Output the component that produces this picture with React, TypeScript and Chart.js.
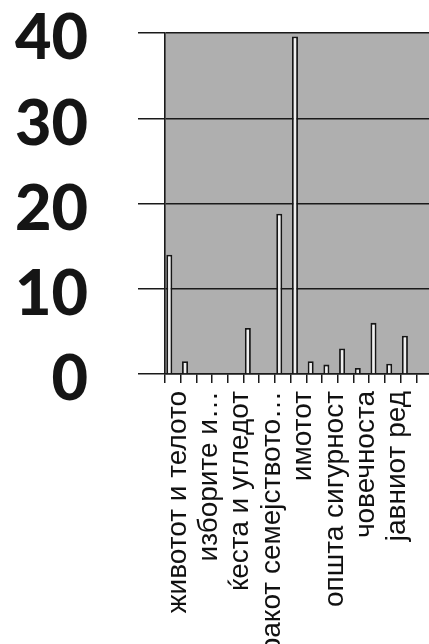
import React, { useEffect, useRef } from "react";
import { Chart, registerables } from "chart.js";

Chart.register(...registerables);

const categories: string[] = [
  "животот и телото",
  "",
  "изборите и…",
  "",
  "ќеста и угледот",
  "",
  "бракот семејството…",
  "",
  "имотот",
  "",
  "општа сигурност",
  "",
  "човечноста",
  "",
  "јавниот ред",
  "",
  "",
];

const counts: (number | null)[] = [14, 1.5, 0, 0, 0, 5.4, 0, 18.8, 39.6, 1.5, 1.1, 3, 0.7, 6, 1.2, 4.5, 0];
const secondSeries: (number | null)[] = categories.map(() => null);

const yTicks: number[] = [0, 10, 20, 30, 40];

const bgPlugin = {
  id: "plotBg",
  beforeDraw(chart: any) {
    const { ctx, chartArea } = chart;
    if (!chartArea) return;
    ctx.save();
    ctx.fillStyle = "#afafaf";
    ctx.fillRect(chartArea.left, chartArea.top, chartArea.right - chartArea.left, chartArea.bottom - chartArea.top);
    ctx.restore();
  },
};

export default function App() {
  const ref = useRef<HTMLCanvasElement | null>(null);

  useEffect(() => {
    if (!ref.current) return;
    const chart = new Chart(ref.current, {
      type: "bar",
      data: {
        labels: categories,
        datasets: [
          {
            data: counts,
            backgroundColor: "#efefef",
            borderColor: "#161616",
            borderWidth: 1.8,
            categoryPercentage: 0.9,
            barPercentage: 0.85,
          },
          {
            data: secondSeries,
            backgroundColor: "#efefef",
            borderColor: "#161616",
            borderWidth: 1.8,
            categoryPercentage: 0.9,
            barPercentage: 0.85,
          },
        ],
      },
      options: {
        responsive: false,
        animation: false,
        layout: { padding: { top: 33, right: 0, left: 0, bottom: 0 } },
        plugins: { legend: { display: false }, tooltip: { enabled: false } },
        scales: {
          x: {
            grid: {
              offset: true,
              drawOnChartArea: false,
              drawTicks: true,
              tickLength: 9,
              color: "#1a1a1a",
              lineWidth: 1.5,
            },
            border: { display: true, color: "#1a1a1a", width: 1.6 },
            ticks: {
              autoSkip: false,
              minRotation: 90,
              maxRotation: 90,
              padding: 8,
              labelOffset: 5,
              color: "#111",
              font: { family: "'Liberation Sans', Arial, sans-serif", size: 28 },
            },
            afterFit(scale: any) {
              scale.height = 270;
              scale.paddingLeft = 0;
              scale.paddingRight = 0;
            },
          },
          y: {
            min: 0,
            max: 40,
            afterBuildTicks(scale: any) {
              scale.ticks = yTicks.map((v) => ({ value: v }));
            },
            grid: {
              color: "#1a1a1a",
              lineWidth: 1.5,
              drawTicks: true,
              tickLength: 27,
            },
            border: { display: true, color: "#1a1a1a", width: 1.6 },
            ticks: {
              padding: 50,
              labelOffset: 6,
              color: "#151515",
              font: { family: "Lato, 'Open Sans', sans-serif", size: 63, weight: "900", lineHeight: 0.9 },
            },
            afterFit(scale: any) {
              scale.width = 165;
              scale.paddingTop = 0;
              scale.paddingBottom = 0;
            },
          },
        },
      },
      plugins: [bgPlugin],
    });
    return () => chart.destroy();
  }, []);

  return (
    <div
      style={{
        position: "fixed",
        left: 0,
        top: 0,
        width: 429,
        height: 644,
        overflow: "hidden",
        background: "#fff",
      }}
    >
      <canvas ref={ref} width={432} height={644} style={{ display: "block", width: 432, height: 644 }} />
    </div>
  );
}
